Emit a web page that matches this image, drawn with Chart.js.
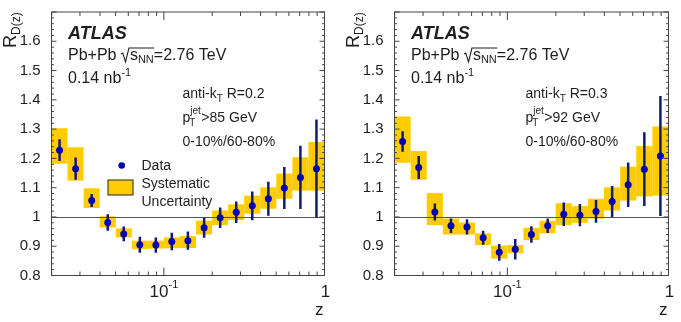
<!DOCTYPE html>
<html>
<head>
<meta charset="utf-8">
<script src="https://cdn.jsdelivr.net/npm/chart.js@4.4.1/dist/chart.umd.min.js"></script>
<style>
  body { margin: 0; background: #fff; }
  #wrap { display: flex; width: 681px; height: 322px; }
  canvas { display: block; }
</style>
</head>
<body>
<div id="wrap">
  <canvas id="c1" width="340" height="322"></canvas>
  <canvas id="c2" width="341" height="322"></canvas>
</div>
<script>
// z binning (10 log bins per decade) and bin centres
var zEdges = [0.01995, 0.02512, 0.03162, 0.03981, 0.05012, 0.0631, 0.07943, 0.1, 0.1259,
              0.1585, 0.1995, 0.2512, 0.3162, 0.3981, 0.5012, 0.631, 0.7943, 1];
var zCentres = [0.0224, 0.0282, 0.0355, 0.0447, 0.0562, 0.0708, 0.0891, 0.112, 0.141,
                0.178, 0.224, 0.282, 0.355, 0.447, 0.562, 0.708, 0.891];
var yTicks = [0.8, 0.9, 1, 1.1, 1.2, 1.3, 1.4, 1.5, 1.6];

// anti-kt R=0.2, pT > 85 GeV
var r02Values  = [1.228, 1.165, 1.056, 0.981, 0.942, 0.905, 0.904, 0.916, 0.919, 0.963, 0.997, 1.016, 1.038, 1.062, 1.099, 1.135, 1.165];
var r02Stat    = [0.037, 0.038, 0.022, 0.028, 0.025, 0.027, 0.026, 0.030, 0.031, 0.034, 0.035, 0.037, 0.049, 0.058, 0.072, 0.108, 0.168];
var r02SysLow  = [1.182, 1.124, 1.031, 0.964, 0.930, 0.890, 0.892, 0.893, 0.894, 0.940, 0.972, 0.989, 1.011, 1.028, 1.062, 1.090, 1.090];
var r02SysHigh = [1.303, 1.238, 1.098, 1.002, 0.961, 0.919, 0.919, 0.930, 0.935, 0.987, 1.022, 1.043, 1.073, 1.101, 1.148, 1.204, 1.256];

// anti-kt R=0.3, pT > 92 GeV
var r03Values  = [1.258, 1.169, 1.017, 0.970, 0.966, 0.929, 0.879, 0.890, 0.940, 0.970, 1.009, 1.006, 1.019, 1.053, 1.110, 1.163, 1.208];
var r03Stat    = [0.035, 0.039, 0.029, 0.025, 0.026, 0.024, 0.029, 0.035, 0.028, 0.025, 0.040, 0.038, 0.039, 0.053, 0.076, 0.126, 0.205];
var r03SysLow  = [1.185, 1.127, 0.972, 0.940, 0.940, 0.904, 0.858, 0.876, 0.921, 0.944, 0.972, 0.980, 0.994, 1.022, 1.056, 1.070, 1.073];
var r03SysHigh = [1.343, 1.225, 1.082, 0.994, 0.981, 0.944, 0.902, 0.904, 0.963, 0.987, 1.047, 1.037, 1.062, 1.101, 1.172, 1.242, 1.309];

var FONT = '"Liberation Sans", Arial, Helvetica, sans-serif';
var TXT = '#1e1e1e';
var YELLOW = '#ffcc00';

// draw a run of text pieces: [text, size, dy, style]
function runs(ctx, x, y, parts) {
  parts.forEach(function (p) {
    ctx.font = (p[3] || '') + ' ' + p[1] + 'px ' + FONT;
    ctx.fillText(p[0], x, y + (p[2] || 0));
    x += ctx.measureText(p[0]).width;
  });
  return x;
}

function makeChart(id, axisWidth, padRight, vals, stat, sysLow, sysHigh, jetR, ptCut, withLegend) {
  var pts = zCentres.map(function (z, i) { return { x: z, y: vals[i] }; });

  var decor = {
    id: 'decor',
    beforeDatasetsDraw: function (chart) {
      var ctx = chart.ctx, a = chart.chartArea, xs = chart.scales.x, ys = chart.scales.y;
      ctx.save();
      ctx.beginPath();
      ctx.rect(a.left, a.top, a.right - a.left, a.bottom - a.top);
      ctx.clip();
      // systematic boxes
      ctx.fillStyle = YELLOW;
      for (var i = 0; i < vals.length; i++) {
        var x0 = xs.getPixelForValue(zEdges[i]), x1 = xs.getPixelForValue(zEdges[i + 1]);
        var y0 = ys.getPixelForValue(sysHigh[i]), y1 = ys.getPixelForValue(sysLow[i]);
        ctx.fillRect(x0, y0, x1 - x0, y1 - y0);
      }
      // reference line at 1
      var y1p = Math.round(ys.getPixelForValue(1)) + 0.5;
      ctx.strokeStyle = '#555';
      ctx.lineWidth = 1;
      ctx.beginPath();
      ctx.moveTo(a.left, y1p);
      ctx.lineTo(a.right, y1p);
      ctx.stroke();
      // statistical error bars
      ctx.strokeStyle = '#101a78';
      ctx.lineWidth = 2.5;
      ctx.beginPath();
      for (var j = 0; j < vals.length; j++) {
        var px = xs.getPixelForValue(zCentres[j]);
        ctx.moveTo(px, ys.getPixelForValue(vals[j] + stat[j]));
        ctx.lineTo(px, ys.getPixelForValue(vals[j] - stat[j]));
      }
      ctx.stroke();
      ctx.restore();
    },
    afterDraw: function (chart) {
      var ctx = chart.ctx, a = chart.chartArea, xs = chart.scales.x, ys = chart.scales.y;
      ctx.save();
      // frame and inward ticks
      ctx.strokeStyle = '#444';
      ctx.lineWidth = 1;
      ctx.strokeRect(a.left, a.top, a.right - a.left, a.bottom - a.top);
      ctx.beginPath();
      for (var i = 0; i <= 45; i++) {
        var v = 0.8 + i * 0.02;
        var py = ys.getPixelForValue(v);
        var len = (i % 5 === 0) ? 5 : 2.5;
        ctx.moveTo(a.left, py); ctx.lineTo(a.left + len, py);
        ctx.moveTo(a.right, py); ctx.lineTo(a.right - len, py);
      }
      for (var d = -2; d <= 0; d++) {
        for (var m = 1; m <= 9; m++) {
          var zv = m * Math.pow(10, d);
          if (zv < xs.min || zv > 1.0001) continue;
          var px = xs.getPixelForValue(zv);
          var tl = (m === 1) ? 8 : 4;
          ctx.moveTo(px, a.bottom); ctx.lineTo(px, a.bottom - tl);
          ctx.moveTo(px, a.top); ctx.lineTo(px, a.top + tl);
        }
      }
      ctx.stroke();

      ctx.fillStyle = TXT;
      ctx.textBaseline = 'alphabetic';
      ctx.textAlign = 'left';

      // x tick labels
      var p01 = xs.getPixelForValue(0.1);
      ctx.font = '17px ' + FONT;
      var w10 = ctx.measureText('10').width;
      ctx.font = '11px ' + FONT;
      var wSup = ctx.measureText('-1').width;
      var sx = p01 - (w10 + wSup) / 2;
      runs(ctx, sx, 297, [['10', 17], ['-1', 11, -9]]);
      ctx.font = '17px ' + FONT;
      ctx.textAlign = 'center';
      ctx.fillText('1', a.right + 1, 297);
      ctx.textAlign = 'right';
      ctx.fillText('z', a.right - 1, 315);
      ctx.textAlign = 'left';

      // y title, rotated
      ctx.save();
      ctx.translate(a.left - 36, 48);
      ctx.rotate(-Math.PI / 2);
      ctx.font = '18px ' + FONT;
      ctx.fillText('R', 0, 0);
      var wr = ctx.measureText('R').width;
      ctx.font = '12px ' + FONT;
      ctx.fillText('D(z)', wr, 4);
      ctx.restore();

      // ATLAS block
      var tx = a.left + 16.5;
      runs(ctx, tx, 39, [['ATLAS', 18, 0, 'italic bold']]);
      var xq = runs(ctx, tx, 60, [['Pb+Pb ', 16]]);
      // sqrt sign with overline
      ctx.lineWidth = 1.1;
      ctx.strokeStyle = TXT;
      ctx.beginPath();
      ctx.moveTo(xq, 54);
      ctx.lineTo(xq + 1.8, 53);
      ctx.lineTo(xq + 4.6, 62);
      ctx.lineTo(xq + 8, 48);
      var xs2 = runs(ctx, xq + 9, 60, [['s', 16]]);
      var xe = runs(ctx, xs2, 60, [['NN', 11, 3]]);
      ctx.lineTo(xe + 0.5, 48);
      ctx.stroke();
      runs(ctx, xe, 60, [['=2.76 TeV', 16]]);
      runs(ctx, tx, 83, [['0.14 nb', 16], ['-1', 11, -7]]);

      // jet selection
      var jx = a.left + 131;
      runs(ctx, jx, 98, [['anti-k', 14], ['T', 10, 4], [' R=' + jetR, 14]]);
      var px2 = runs(ctx, jx, 122, [['p', 14]]);
      ctx.font = '10px ' + FONT;
      var wj = ctx.measureText('jet').width;
      ctx.fillText('jet', px2, 114);
      ctx.fillText('T', px2 - 1, 126);
      runs(ctx, px2 + wj + 0.5, 122, [['>' + ptCut + ' GeV', 14]]);
      runs(ctx, jx, 146, [['0-10%/60-80%', 14]]);

      // legend
      if (withLegend) {
        var lx = a.left;
        ctx.fillStyle = '#0000b4';
        ctx.beginPath();
        ctx.arc(lx + 70.2, 165.5, 3.3, 0, Math.PI * 2);
        ctx.fill();
        ctx.fillStyle = YELLOW;
        ctx.fillRect(lx + 56.5, 180, 25, 15);
        ctx.strokeStyle = '#222';
        ctx.lineWidth = 1;
        ctx.strokeRect(lx + 56.5, 180, 25, 15);
        ctx.fillStyle = TXT;
        runs(ctx, lx + 90, 170, [['Data', 14]]);
        runs(ctx, lx + 90, 188, [['Systematic', 14]]);
        runs(ctx, lx + 90, 206, [['Uncertainty', 14]]);
      }
      ctx.restore();
    }
  };

  return new Chart(document.getElementById(id), {
    type: 'scatter',
    data: {
      datasets: [{
        data: pts,
        pointRadius: 3.5,
        pointHoverRadius: 3.5,
        backgroundColor: '#0000b4',
        borderWidth: 0
      }]
    },
    options: {
      responsive: false,
      animation: false,
      devicePixelRatio: 1,
      events: [],
      layout: { padding: { left: 0, right: padRight, top: 10.5, bottom: 0 } },
      plugins: {
        legend: { display: false },
        tooltip: { enabled: false }
      },
      scales: {
        x: {
          type: 'logarithmic',
          min: zEdges[0],
          max: 1,
          grid: { display: false },
          border: { display: false },
          ticks: { display: false },
          afterFit: function (s) { s.height = 46.5; }
        },
        y: {
          min: 0.8,
          max: 1.7,
          grid: { display: false },
          border: { display: false },
          afterBuildTicks: function (s) {
            s.ticks = yTicks.map(function (v) { return { value: v }; });
          },
          afterFit: function (s) { s.width = axisWidth; },
          ticks: {
            padding: 3,
            color: TXT,
            font: { family: FONT, size: 15 },
            callback: function (v) { return String(Math.round(v * 10) / 10); }
          }
        }
      }
    },
    plugins: [decor]
  });
}

makeChart('c1', 51.5, 15.5, r02Values, r02Stat, r02SysLow, r02SysHigh, '0.2', '85', true);
makeChart('c2', 54.5, 12.5, r03Values, r03Stat, r03SysLow, r03SysHigh, '0.3', '92', false);
</script>
</body>
</html>
